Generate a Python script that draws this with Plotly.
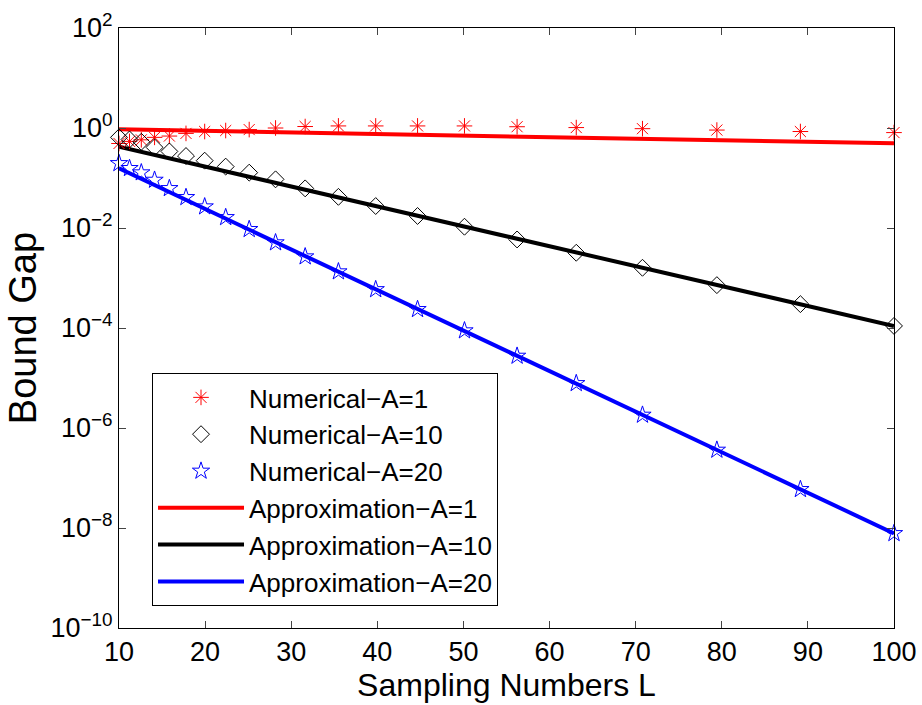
import plotly.graph_objects as go

# Sampling numbers L (marker positions)
L = [10, 11.22, 12.59, 14.13, 15.85, 17.78, 19.95, 22.39, 25.12, 28.18, 31.62,
     35.48, 39.81, 44.67, 50.12, 56.23, 63.10, 70.79, 79.43, 89.13, 100]

# Numerical results
num_A1 = [0.49, 0.54, 0.58, 0.65, 0.69, 0.78, 0.85, 0.89, 0.93, 1.0, 1.07,
          1.1, 1.1, 1.1, 1.1, 1.06, 1.02, 0.97, 0.91, 0.85, 0.81]
num_A10 = [0.65, 0.59, 0.53, 0.41, 0.34, 0.275, 0.222, 0.169, 0.128, 0.094, 0.062,
           0.042, 0.0275, 0.0174, 0.0106, 0.0059, 0.0032, 0.0016, 0.00072, 0.0003, 0.00011]
num_A20 = [0.196, 0.156, 0.128, 0.091, 0.062, 0.041, 0.0267, 0.0163, 0.0094, 0.0051, 0.00267,
           0.00134, 0.00059, 0.000236, 8.85e-5, 2.75e-5, 7.8e-6, 1.82e-6, 3.63e-7, 5.93e-8, 7.8e-9]

# Approximation curves
L_approx = [10, 20, 30, 40, 50, 60, 70, 80, 90, 100]
app_A1 = [0.94, 0.875, 0.815, 0.76, 0.706, 0.656, 0.611, 0.569, 0.53, 0.493]
app_A10 = [0.424, 0.169, 0.0676, 0.027, 0.0108, 0.0043, 0.00172, 6.87e-4, 2.74e-4, 1.1e-4]
app_A20 = [0.156, 0.0241, 3.72e-3, 5.75e-4, 8.9e-5, 1.37e-5, 2.12e-6, 3.28e-7, 5.07e-8, 7.8e-9]

x_ticks = [10, 20, 30, 40, 50, 60, 70, 80, 90, 100]
y_tickvals = [1e-10, 1e-8, 1e-6, 1e-4, 1e-2, 1e0, 1e2]
y_ticktext = ["10<sup>\u221210</sup>", "10<sup>\u22128</sup>", "10<sup>\u22126</sup>",
              "10<sup>\u22124</sup>", "10<sup>\u22122</sup>", "10<sup>0</sup>", "10<sup>2</sup>"]

FONT = "Liberation Sans, Arial, Helvetica, sans-serif"

fig = go.Figure()

lines = [("Approximation\u2212A=1", app_A1, "#ff0000", 4),
         ("Approximation\u2212A=10", app_A10, "#000000", 5),
         ("Approximation\u2212A=20", app_A20, "#0000ff", 6)]
for name, ys, col, rank in lines:
    fig.add_trace(go.Scatter(x=L_approx, y=ys, mode="lines", name=name,
                             line=dict(color=col, width=4), legendrank=rank,
                             cliponaxis=False))

marks = [("Numerical\u2212A=1", num_A1, "#ff0000", "asterisk-open", 13, 1),
         ("Numerical\u2212A=10", num_A10, "#000000", "diamond-open", 13, 2),
         ("Numerical\u2212A=20", num_A20, "#0000ff", "star-open", 13, 3)]
for name, ys, col, sym, sz, rank in marks:
    fig.add_trace(go.Scatter(x=L, y=ys, mode="markers", name=name,
                             marker=dict(symbol=sym, size=sz, color=col,
                                         line=dict(color=col, width=1)),
                             legendrank=rank, cliponaxis=False))

fig.update_layout(
    width=922, height=705,
    margin=dict(l=119, r=28, t=28, b=77, autoexpand=False),
    paper_bgcolor="white", plot_bgcolor="white",
    font=dict(family=FONT, size=27, color="black"),
    showlegend=True,
    legend=dict(x=0.0426, y=0.0367, xanchor="left", yanchor="bottom",
                bgcolor="white", bordercolor="black", borderwidth=1,
                font=dict(size=26), itemwidth=86, tracegroupgap=0),
    xaxis=dict(range=[10, 100], tickvals=x_ticks, ticks="inside", ticklen=7,
               showline=True, linecolor="black", linewidth=1, mirror="ticks",
               showgrid=False, zeroline=False,
               title=dict(text="Sampling Numbers L", font=dict(size=32), standoff=2),
               tickfont=dict(size=27)),
    yaxis=dict(type="log", range=[-10, 2], tickvals=y_tickvals, ticktext=y_ticktext,
               ticks="inside", ticklen=7, showline=True, linecolor="black", linewidth=1,
               mirror="ticks", showgrid=False, zeroline=False,
               title=dict(text="Bound Gap", font=dict(size=38), standoff=2),
               tickfont=dict(size=27)),
)

fig.write_html("out.html")
